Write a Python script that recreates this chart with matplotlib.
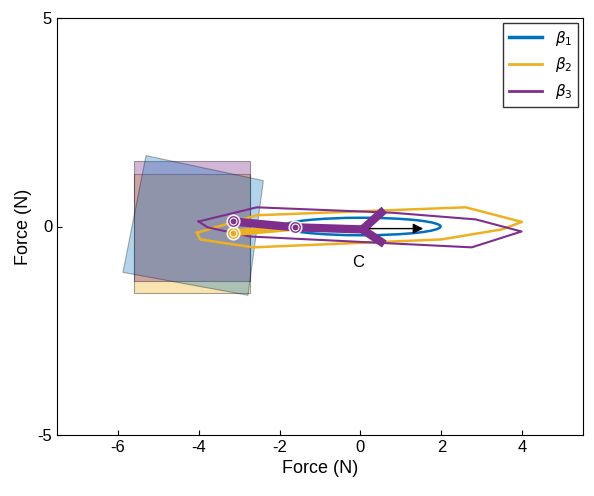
import numpy as np
import matplotlib
matplotlib.use("Agg")
import matplotlib.pyplot as plt
from matplotlib.patches import Polygon, Ellipse

plt.rcParams['font.family'] = ['Liberation Sans', 'DejaVu Sans']
plt.rcParams['axes.unicode_minus'] = False

c1, c2, c3 = '#0072BD', '#EDB120', '#7E2F8E'

rect_purple = [(-5.6, -1.3), (-2.73, -1.3), (-2.73, 1.56), (-5.6, 1.56)]
rect_yellow = [(-5.6, -1.6), (-2.73, -1.6), (-2.73, 1.25), (-5.6, 1.25)]
rect_blue = [(-5.3, 1.7), (-2.4, 1.1), (-2.78, -1.65), (-5.87, -1.1)]

ell_center, ell_w, ell_h = (0.03, 0.0), 3.9, 0.42

yel_x = [-4.04, -2.56, 2.6, 3.99, 3.49, 2.0, -2.65, -3.96]
yel_y = [-0.15, 0.27, 0.46, 0.11, -0.07, -0.31, -0.5, -0.31]
pur_x = [-4.0, -2.56, 0.79, 2.85, 3.98, 2.75, -1.25, -2.73, -3.78]
pur_y = [0.12, 0.46, 0.33, 0.17, -0.12, -0.5, -0.31, -0.24, -0.02]

arm_x = [-3.14, -1.62, 0.05]
arm_y = [0.12, -0.02, -0.07]
fork_x = [0.59, 0.05, 0.59]
fork_y = [0.4, -0.07, -0.42]
yarm_x = [-3.14, -1.62]
yarm_y = [-0.15, -0.02]

fig = plt.figure(figsize=(5.94, 4.96), dpi=100)
ax = fig.add_axes([57/594, 1-435/496, (583-57)/594, (435-18)/496])

ax.add_patch(Polygon(rect_yellow, closed=True, fc=c2, alpha=0.35, ec='k', lw=0.8))
ax.add_patch(Polygon(rect_purple, closed=True, fc=c3, alpha=0.35, ec='k', lw=0.8))
ax.add_patch(Polygon(rect_blue, closed=True, fc=c1, alpha=0.3, ec='k', lw=0.8))

ax.plot(yel_x + yel_x[:1], yel_y + yel_y[:1], color=c2, lw=1.8)
ax.plot(pur_x + pur_x[:1], pur_y + pur_y[:1], color=c3, lw=1.5)
ax.add_patch(Ellipse(ell_center, ell_w, ell_h, fc='none', ec=c1, lw=1.8))

ax.plot(yarm_x, yarm_y, color=c2, lw=5, solid_capstyle='butt')
ax.plot(arm_x, arm_y, color=c3, lw=6, solid_capstyle='butt')
ax.plot(fork_x, fork_y, color=c3, lw=6, solid_capstyle='butt')
ax.annotate('', xy=(1.62, -0.05), xytext=(0.15, -0.05),
            arrowprops=dict(arrowstyle='-|>', color='k', lw=1, mutation_scale=15))
for (x, y, c) in [(yarm_x[0], yarm_y[0], c2), (arm_x[0], arm_y[0], c3), (arm_x[1], arm_y[1], c3)]:
    ax.plot(x, y, 'o', ms=9, mfc=c, mec='white', mew=1.2, alpha=0.9)
    ax.plot(x, y, 'o', ms=5, mfc='none', mec='white', mew=0.8)

ax.text(-0.07, -0.87, 'C', ha='center', va='center', fontsize=12)

ax.plot([], [], color=c1, lw=2.5, label=r'$\beta_1$')
ax.plot([], [], color=c2, lw=2, label=r'$\beta_2$')
ax.plot([], [], color=c3, lw=2, label=r'$\beta_3$')
ax.legend(loc='upper right', fontsize=11, fancybox=False, edgecolor='k',
          handlelength=2.2, borderaxespad=0.3)

ax.set_xlim(-7.5, 5.5)
ax.set_ylim(-5, 5)
ax.set_xticks([-6, -4, -2, 0, 2, 4])
ax.set_yticks([-5, 0, 5])
ax.tick_params(labelsize=12, direction='in')
ax.set_xlabel('Force (N)', fontsize=13)
ax.set_ylabel('Force (N)', fontsize=13)
fig.savefig('out.png', dpi=100)
